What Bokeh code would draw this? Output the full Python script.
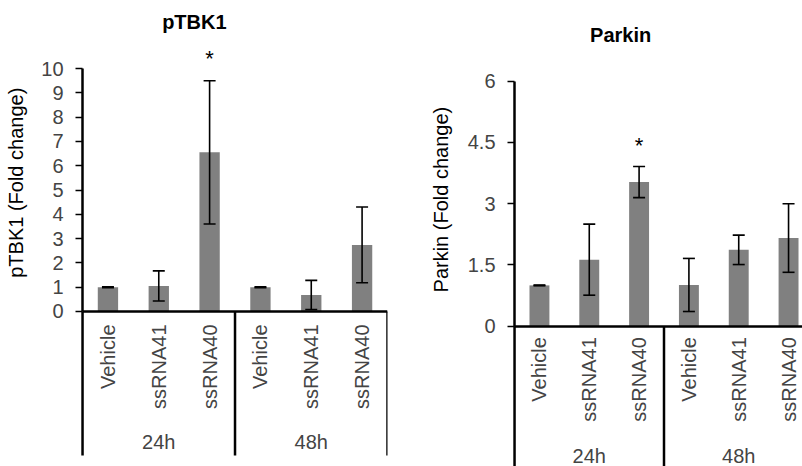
import math
from bokeh.plotting import figure
from bokeh.layouts import row
from bokeh.models import Range1d, LinearAxis, FixedTicker, ColumnDataSource, Whisker, Label
from bokeh.embed import file_html
from bokeh.resources import INLINE

categories = ["Vehicle", "ssRNA41", "ssRNA40", "Vehicle", "ssRNA41", "ssRNA40"]
groups = ["24h", "48h"]

ptbk1_mean = [1.0, 1.05, 6.55, 1.0, 0.68, 2.74]
ptbk1_err = [0.02, 0.62, 2.95, 0.02, 0.60, 1.56]
ptbk1_ticks = [0, 1, 2, 3, 4, 5, 6, 7, 8, 9, 10]

parkin_mean = [1.0, 1.63, 3.53, 1.01, 1.87, 2.16]
parkin_err = [0.01, 0.87, 0.38, 0.65, 0.36, 0.84]
parkin_ticks = [0, 1.5, 3, 4.5, 6]

FONT = "Liberation Sans"
BAR = "#808080"


def make_panel(title, ylabel, means, errs, ticks, width, height, border_right,
               x_range, y_range, star_idx, leaf_standoff, group_standoff,
               title_xy, ylabel_xy, sep_bottom, star_offset):
    p = figure(width=width, height=height, output_backend="svg", toolbar_location=None,
               x_range=Range1d(*x_range), y_range=Range1d(*y_range),
               x_axis_type=None, y_axis_type=None, title=None,
               min_border_left=0, min_border_right=border_right,
               min_border_top=0, min_border_bottom=0)
    p.outline_line_color = None
    p.xgrid.visible = False
    p.ygrid.visible = False
    p.background_fill_color = "white"
    p.border_fill_color = "white"

    n = len(categories)
    xs = [i + 0.5 for i in range(n)]
    lower = [m - e for m, e in zip(means, errs)]
    upper = [m + e for m, e in zip(means, errs)]
    src = ColumnDataSource(dict(x=xs, top=means, lower=lower, upper=upper, cat=categories))

    p.vbar(x="x", top="top", bottom=0, width=0.4, source=src, fill_color=BAR, line_color=None)

    w = Whisker(base="x", lower="lower", upper="upper", source=src, dimension="height",
                line_color="black", line_width=1.6, level="overlay")
    for head in (w.upper_head, w.lower_head):
        head.size = 12
        head.line_width = 1.6
        head.line_color = "black"
    p.add_layout(w)

    # title
    p.add_layout(Label(x=title_xy[0], y=title_xy[1], text=title, text_align="center",
                       text_baseline="middle", text_font=FONT, text_font_size="20px",
                       text_font_style="bold", text_color="black"))

    # y axis title
    p.add_layout(Label(x=ylabel_xy[0], y=ylabel_xy[1], text=ylabel, text_align="center",
                       text_baseline="middle", angle=math.pi / 2, text_font=FONT,
                       text_font_size="20px", text_color="black"))

    # significance asterisk
    p.add_layout(Label(x=xs[star_idx], y=upper[star_idx], text="*", text_align="center",
                       text_baseline="bottom", y_offset=star_offset, text_font=FONT,
                       text_font_size="22px", text_color="black"))

    # y axis (drawn at x = 0 inside the frame)
    yax = LinearAxis(ticker=FixedTicker(ticks=ticks), bounds=(ticks[0], ticks[-1]),
                     fixed_location=0)
    yax.major_label_text_font = FONT
    yax.major_label_text_font_size = "20px"
    yax.major_label_standoff = 12
    yax.major_tick_in = 0
    yax.major_tick_out = 7
    yax.minor_tick_line_color = None
    yax.axis_line_width = 2.5
    yax.major_tick_line_width = 1.5
    yax.major_tick_line_color = "black"
    yax.axis_line_color = "black"
    p.add_layout(yax, "left")

    # category axis (leaf labels)
    xax = LinearAxis(ticker=FixedTicker(ticks=xs), fixed_location=0, bounds=(0, n),
                     major_label_overrides={x: c for x, c in zip(xs, categories)})
    xax.major_label_orientation = math.pi / 2
    xax.major_label_text_font = FONT
    xax.major_label_text_font_size = "20px"
    xax.major_label_standoff = leaf_standoff
    xax.major_tick_in = 0
    xax.major_tick_out = 0
    xax.minor_tick_line_color = None
    xax.axis_line_width = 2.5
    xax.axis_line_color = "black"
    p.add_layout(xax, "below")

    # group axis (24h / 48h)
    per = n // len(groups)
    gx = [g * per + per / 2 for g in range(len(groups))]
    gax = LinearAxis(ticker=FixedTicker(ticks=gx), fixed_location=0,
                     major_label_overrides={x: g for x, g in zip(gx, groups)})
    gax.major_label_text_font = FONT
    gax.major_label_text_font_size = "20px"
    gax.major_label_standoff = group_standoff
    gax.major_tick_in = 0
    gax.major_tick_out = 0
    gax.minor_tick_line_color = None
    gax.axis_line_color = None
    p.add_layout(gax, "below")

    # group separator lines below the axis
    sep = [g * per for g in range(len(groups) + 1)]
    p.segment(x0=sep, x1=sep, y0=[0] * len(sep), y1=[sep_bottom] * len(sep),
              line_color="black", line_width=2.5)
    return p


left = make_panel("pTBK1", "pTBK1 (Fold change)", ptbk1_mean, ptbk1_err, ptbk1_ticks,
                  width=400, height=466, border_right=13,
                  x_range=(-1.614, 6), y_range=(-6.38, 12.8), star_idx=2,
                  leaf_standoff=13, group_standoff=120,
                  title_xy=(2.2, 11.9), ylabel_xy=(-1.30, 5.3), sep_bottom=-5.93,
                  star_offset=10)

right = make_panel("Parkin", "Parkin (Fold change)", parkin_mean, parkin_err, parkin_ticks,
                   width=402, height=466, border_right=0,
                   x_range=(-2.289, 5.78), y_range=(-3.436, 7.977), star_idx=2,
                   leaf_standoff=11, group_standoff=119,
                   title_xy=(2.13, 7.12), ylabel_xy=(-1.48, 3.1), sep_bottom=-3.436,
                   star_offset=9)

layout = row(left, right)
open("out.html", "w").write(file_html(layout, INLINE))
